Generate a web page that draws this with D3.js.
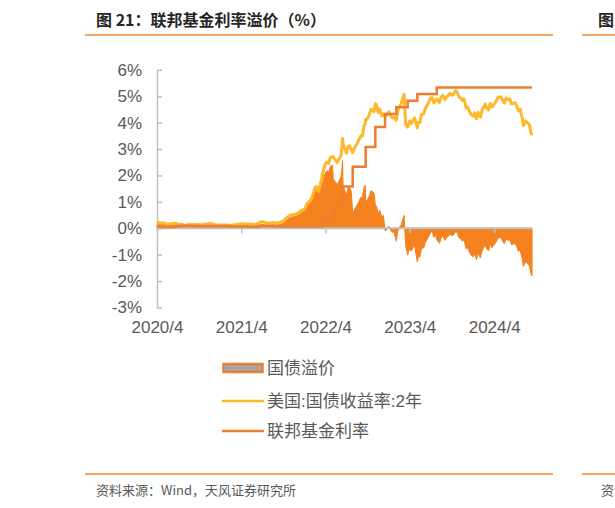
<!DOCTYPE html>
<html><head><meta charset="utf-8">
<script src="https://cdn.jsdelivr.net/npm/d3@7"></script>
<style>body{margin:0;background:#fff}svg{display:block}</style>
</head><body><svg id="c" width="615" height="508"></svg>
<script>
// ---- data ----
const dates = [
"2020-04-01","2020-04-15","2020-05-01","2020-05-15","2020-06-01","2020-06-15","2020-07-01","2020-07-15","2020-08-01","2020-08-15",
"2020-09-01","2020-09-15","2020-10-01","2020-10-15","2020-11-01","2020-11-15","2020-12-01","2020-12-15",
"2021-01-01","2021-01-15","2021-02-01","2021-02-15","2021-03-01","2021-03-15","2021-04-01","2021-04-15","2021-05-01","2021-05-15",
"2021-06-01","2021-06-15","2021-07-01","2021-07-15","2021-08-01","2021-08-15","2021-09-01","2021-09-15","2021-10-01","2021-10-15",
"2021-11-01","2021-11-15","2021-12-01","2021-12-15",
"2022-01-01","2022-01-08","2022-01-15","2022-01-22","2022-02-01","2022-02-08","2022-02-15","2022-02-22","2022-03-01","2022-03-08",
"2022-03-15","2022-03-17","2022-03-25","2022-04-01","2022-04-08","2022-04-15","2022-04-22","2022-05-01","2022-05-05","2022-05-10",
"2022-05-15","2022-05-22","2022-06-01","2022-06-08","2022-06-14","2022-06-16","2022-06-22","2022-07-01","2022-07-08","2022-07-15",
"2022-07-22","2022-07-28","2022-08-05","2022-08-15","2022-08-22","2022-09-01","2022-09-08","2022-09-15","2022-09-20","2022-09-22",
"2022-09-28","2022-10-08","2022-10-15","2022-10-21","2022-10-28","2022-11-03","2022-11-08","2022-11-15","2022-11-22","2022-12-01","2022-12-08","2022-12-15","2022-12-22",
"2023-01-01","2023-01-08","2023-01-15","2023-01-22","2023-02-02","2023-02-08","2023-02-15","2023-02-22","2023-03-01","2023-03-08",
"2023-03-10","2023-03-15","2023-03-23","2023-04-01","2023-04-08","2023-04-15","2023-04-22","2023-05-04","2023-05-08","2023-05-15",
"2023-05-22","2023-06-01","2023-06-08","2023-06-15","2023-06-22","2023-07-01","2023-07-08","2023-07-15","2023-07-22","2023-07-27",
"2023-08-08","2023-08-15","2023-08-22","2023-09-01","2023-09-08","2023-09-15","2023-09-22","2023-10-01","2023-10-08","2023-10-18",
"2023-10-25","2023-11-01","2023-11-08","2023-11-15","2023-11-22","2023-12-01","2023-12-08","2023-12-15","2023-12-22",
"2024-01-01","2024-01-08","2024-01-15","2024-01-22","2024-02-01","2024-02-08","2024-02-15","2024-02-22","2024-03-01","2024-03-08",
"2024-03-15","2024-03-22","2024-04-01","2024-04-08","2024-04-15","2024-04-22","2024-05-01","2024-05-08","2024-05-15","2024-05-22",
"2024-06-01","2024-06-08","2024-06-15","2024-06-22","2024-07-01","2024-07-08","2024-07-15","2024-07-22","2024-08-01","2024-08-05",
"2024-08-15","2024-08-22","2024-09-01","2024-09-06","2024-09-12"];

const ust2y = [
0.23,0.20,0.20,0.15,0.17,0.19,0.16,0.15,0.11,0.15,
0.13,0.14,0.13,0.14,0.16,0.18,0.16,0.12,
0.12,0.13,0.11,0.11,0.13,0.15,0.17,0.16,0.16,0.15,
0.14,0.20,0.25,0.22,0.18,0.22,0.20,0.22,0.27,0.40,
0.50,0.52,0.56,0.66,
0.73,0.87,0.97,1.01,1.16,1.35,1.54,1.58,1.39,1.61,
1.85,1.95,2.27,2.44,2.51,2.46,2.68,2.72,2.70,2.62,
2.58,2.48,2.66,2.79,3.40,3.20,3.05,2.84,3.11,3.12,
2.97,2.87,3.05,3.19,3.31,3.50,3.49,3.87,3.96,4.12,
4.12,4.31,4.50,4.48,4.41,4.71,4.67,4.39,4.51,4.25,4.32,4.24,4.27,
4.41,4.26,4.18,4.20,4.09,4.45,4.62,4.69,4.89,5.07,
4.60,3.90,3.83,4.06,3.97,4.09,4.18,3.80,4.01,4.00,
4.31,4.34,4.55,4.65,4.76,4.94,4.94,4.74,4.84,4.90,
4.76,4.96,5.04,4.87,4.99,5.02,5.11,5.04,5.08,5.22,
5.13,4.96,4.93,4.84,4.90,4.56,4.59,4.44,4.32,
4.25,4.37,4.14,4.39,4.21,4.46,4.58,4.70,4.53,4.48,
4.73,4.59,4.71,4.78,4.93,4.97,4.97,4.83,4.74,4.93,
4.87,4.89,4.71,4.73,4.75,4.63,4.45,4.51,4.16,3.88,
4.07,4.00,3.91,3.65,3.52];

const ffr = [
0.08,0.05,0.05,0.05,0.05,0.08,0.09,0.10,0.10,0.10,
0.09,0.09,0.09,0.09,0.09,0.09,0.09,0.09,
0.09,0.09,0.08,0.08,0.07,0.07,0.07,0.07,0.06,0.06,
0.06,0.10,0.10,0.10,0.10,0.09,0.08,0.08,0.08,0.08,
0.08,0.08,0.08,0.08,
0.08,0.08,0.08,0.08,0.08,0.08,0.08,0.08,0.08,0.08,
0.08,0.33,0.33,0.33,0.33,0.33,0.33,0.33,0.83,0.83,
0.83,0.83,0.83,0.83,0.83,1.58,1.58,1.58,1.58,1.58,
1.58,2.33,2.33,2.33,2.33,2.33,2.33,2.33,2.33,3.08,
3.08,3.08,3.08,3.08,3.08,3.83,3.83,3.83,3.83,3.83,3.83,4.33,4.33,
4.33,4.33,4.33,4.33,4.58,4.58,4.58,4.58,4.58,4.58,
4.58,4.58,4.83,4.83,4.83,4.83,4.83,5.08,5.08,5.08,
5.08,5.08,5.08,5.08,5.08,5.08,5.08,5.08,5.08,5.33,
5.33,5.33,5.33,5.33,5.33,5.33,5.33,5.33,5.33,5.33,
5.33,5.33,5.33,5.33,5.33,5.33,5.33,5.33,5.33,
5.33,5.33,5.33,5.33,5.33,5.33,5.33,5.33,5.33,5.33,
5.33,5.33,5.33,5.33,5.33,5.33,5.33,5.33,5.33,5.33,
5.33,5.33,5.33,5.33,5.33,5.33,5.33,5.33,5.33,5.33,
5.33,5.33,5.33,5.33,5.33];

const premium = [
0.15,0.15,0.15,0.10,0.12,0.11,0.07,0.05,0.01,0.05,
0.04,0.05,0.04,0.05,0.07,0.09,0.07,0.03,
0.03,0.04,0.03,0.03,0.06,0.08,0.10,0.09,0.10,0.09,
0.08,0.10,0.15,0.12,0.08,0.13,0.12,0.14,0.19,0.32,
0.42,0.44,0.48,0.58,
0.65,0.79,0.89,0.93,1.08,1.27,1.46,1.50,1.31,1.53,
1.77,1.62,1.94,2.11,2.18,2.13,2.35,2.39,1.87,1.79,
1.75,1.65,1.83,1.96,2.57,1.62,1.47,1.26,1.53,1.54,
1.39,0.54,0.72,0.86,0.98,1.17,1.16,1.54,1.63,1.04,
1.04,1.23,1.42,1.40,1.33,0.88,0.84,0.56,0.68,0.42,0.49,-0.09,-0.06,
0.08,-0.07,-0.15,-0.13,-0.49,-0.13,0.04,0.11,0.31,0.49,
0.02,-0.68,-1.00,-0.77,-0.86,-0.74,-0.65,-1.28,-1.07,-1.08,
-0.77,-0.74,-0.53,-0.43,-0.32,-0.14,-0.14,-0.34,-0.24,-0.43,
-0.57,-0.37,-0.29,-0.46,-0.34,-0.31,-0.22,-0.29,-0.25,-0.11,
-0.20,-0.37,-0.40,-0.49,-0.43,-0.77,-0.74,-0.89,-1.01,
-1.08,-0.96,-1.19,-0.94,-1.12,-0.87,-0.75,-0.63,-0.80,-0.85,
-0.60,-0.74,-0.62,-0.55,-0.40,-0.36,-0.36,-0.50,-0.59,-0.40,
-0.46,-0.44,-0.62,-0.60,-0.58,-0.70,-0.88,-0.82,-1.17,-1.45,
-1.26,-1.33,-1.42,-1.68,-1.81];

const yTicks = [-3,-2,-1,0,1,2,3,4,5,6];
const xTickDates = ["2020-04-01","2021-04-01","2022-04-01","2023-04-01","2024-04-01"];
const xTickLabels = ["2020/4","2021/4","2022/4","2023/4","2024/4"];
const legendLabels = ["国债溢价","美国:国债收益率:2年","联邦基金利率"];
const titleText = "图 21：联邦基金利率溢价（%）";
const sourceText = "资料来源：Wind，天风证券研究所";

// ---- drawing ----
const parse = d3.timeParse("%Y-%m-%d");
const rows = dates.map((d,i)=>({date:parse(d), y2:ust2y[i], f:ffr[i], p:premium[i]}));
const svg = d3.select("#c");
const latin = "'Liberation Sans', Arial, 'Noto Sans CJK SC', sans-serif";
const cjk = "'Noto Sans CJK SC', sans-serif";
const cOrangeRule = "#F08A2C";
const cArea = "#F5821F", cYellow = "#FDB92B", cFfr = "#ED7D31", cAxis = "#BFBFBF", cText = "#595959";

svg.append("rect").attr("width",615).attr("height",508).attr("fill","#fff");

// header / footer
svg.append("text").attr("x",96).attr("y",25.5).attr("font-family",cjk).attr("font-weight",700)
  .attr("font-size",16).attr("fill","#262626").text(titleText);
svg.append("text").attr("x",598).attr("y",25.5).attr("font-family",cjk).attr("font-weight",700)
  .attr("font-size",16).attr("fill","#262626").text("图");
[[85,553],[582,615]].forEach(([a,b])=>{
  svg.append("line").attr("x1",a).attr("x2",b).attr("y1",35).attr("y2",35).attr("stroke",cOrangeRule).attr("stroke-width",1.5);
  svg.append("line").attr("x1",a).attr("x2",b).attr("y1",474).attr("y2",474).attr("stroke",cOrangeRule).attr("stroke-width",1.5);
});
svg.append("text").attr("x",96).attr("y",494.5).attr("font-family",cjk).attr("font-size",13).attr("fill",cText).text(sourceText);
svg.append("text").attr("x",601).attr("y",494.5).attr("font-family",cjk).attr("font-size",13).attr("fill",cText).text("资");

// scales
const x = d3.scaleTime().domain([parse("2020-04-01"), parse("2024-04-01")]).range([157, 494.2]);
const y = d3.scaleLinear().domain([-3,6]).range([307.5, 69.8]);

// area
svg.append("path").datum(rows)
  .attr("d", d3.area().x(d=>x(d.date)).y0(y(0)).y1(d=>y(d.p)))
  .attr("fill", cArea).attr("stroke", cArea).attr("stroke-width",1);

// y axis
const ya = svg.append("g").attr("transform","translate(157,0)")
  .call(d3.axisLeft(y).tickValues(yTicks).tickSizeInner(-5).tickSizeOuter(0).tickPadding(15).tickFormat(d=>d+"%"));
ya.select(".domain").attr("stroke",cAxis).attr("stroke-width",1.5);
ya.selectAll(".tick line").attr("stroke",cAxis).attr("stroke-width",1.5);
ya.selectAll("text").attr("font-family",latin).attr("font-size",17).attr("fill",cText);

// zero axis with tick marks
const xa = svg.append("g").attr("transform",`translate(0,${y(0)})`)
  .call(d3.axisBottom(x).tickValues(xTickDates.map(parse)).tickSizeInner(5).tickSizeOuter(0).tickFormat(""));
xa.select(".domain").remove();
xa.selectAll(".tick line").attr("stroke",cAxis).attr("stroke-width",1.5);
svg.append("line").attr("x1",x(rows[0].date)).attr("x2",x(rows[rows.length-1].date))
  .attr("y1",y(0)).attr("y2",y(0)).attr("stroke",cAxis).attr("stroke-width",2);

// x labels at bottom
const xl = svg.append("g").attr("transform","translate(0,321)")
  .call(d3.axisBottom(x).tickValues(xTickDates.map(parse)).tickSize(0).tickPadding(0)
    .tickFormat((d,i)=>xTickLabels[i]));
xl.select(".domain").remove();
xl.selectAll("text").attr("font-family",latin).attr("font-size",17).attr("fill",cText);

// lines
svg.append("path").datum(rows)
  .attr("d", d3.line().x(d=>x(d.date)).y(d=>y(d.y2)))
  .attr("fill","none").attr("stroke",cYellow).attr("stroke-width",3).attr("stroke-linejoin","round");
svg.append("path").datum(rows)
  .attr("d", d3.line().curve(d3.curveStepAfter).x(d=>x(d.date)).y(d=>y(d.f)))
  .attr("fill","none").attr("stroke",cFfr).attr("stroke-width",2.5);

// legend
const lg = svg.append("g");
const ly = [368, 401, 431];
lg.append("rect").attr("x",223.5).attr("y",ly[0]-4).attr("width",39).attr("height",8)
  .attr("fill","#A6A6A6").attr("stroke",cFfr).attr("stroke-width",2.5);
lg.append("line").attr("x1",222).attr("x2",264).attr("y1",ly[1]).attr("y2",ly[1]).attr("stroke",cYellow).attr("stroke-width",2.5);
lg.append("line").attr("x1",222).attr("x2",264).attr("y1",ly[2]).attr("y2",ly[2]).attr("stroke",cFfr).attr("stroke-width",2.5);
legendLabels.forEach((t,i)=>{
  lg.append("text").attr("x",267).attr("y",ly[i]).attr("dy","0.36em").attr("font-family",latin)
    .attr("font-size",17).attr("fill",cText).text(t);
});
</script></body></html>
